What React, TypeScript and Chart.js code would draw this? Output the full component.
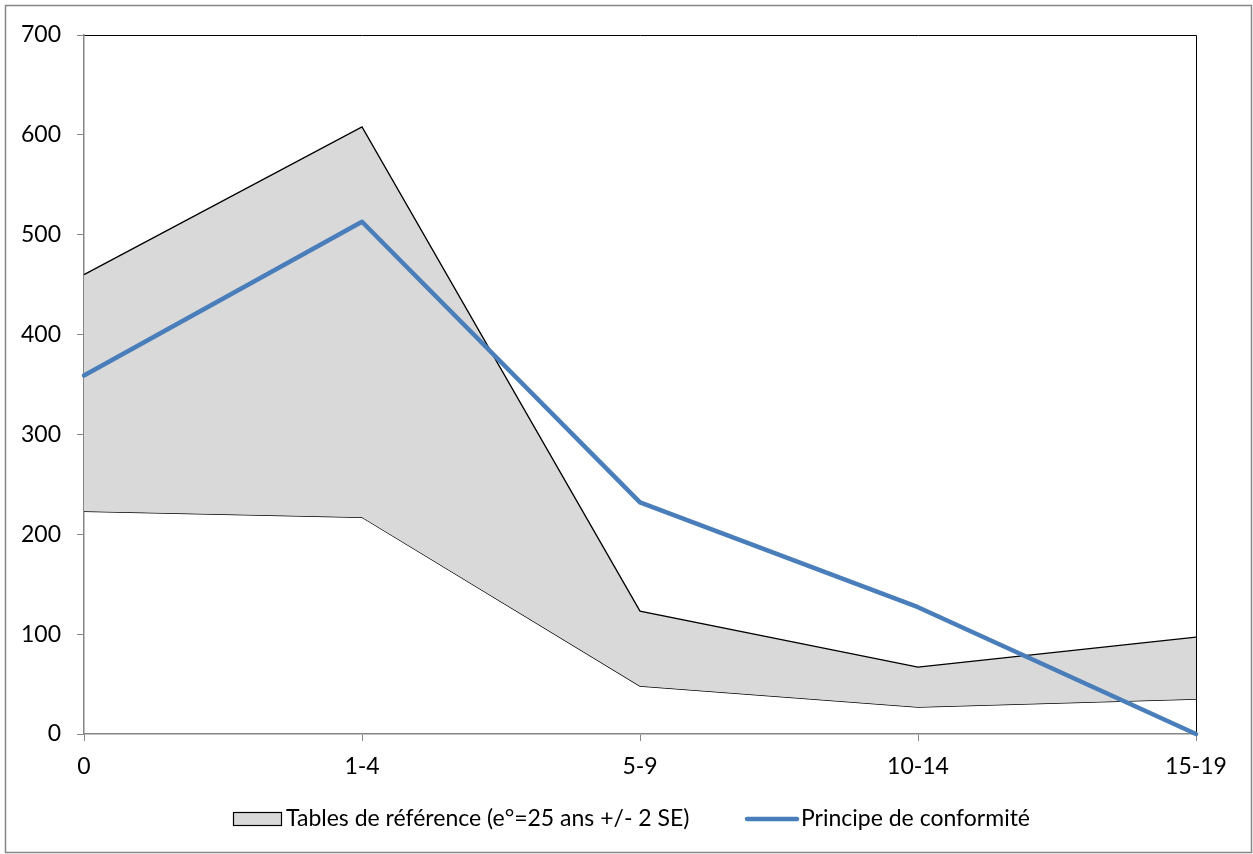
import React, { useEffect, useRef } from 'react';
import { Chart, registerables } from 'chart.js';

Chart.register(...registerables);

const categories = ['0', '1-4', '5-9', '10-14', '15-19'];
const lowerBound = [223, 217, 48, 27, 35];
const upperBound = [460, 608, 123, 67, 97];
const conformite = [359, 513, 232, 127, 0];
const yMin = 0;
const yMax = 700;
const yStep = 100;
const bandLabel = 'Tables de référence (e°=25 ans +/- 2 SE)';
const lineLabel = 'Principe de conformité';

const FONT = 'Lato';
const FONT_SIZE = 23;
const AXIS_GRAY = '#868686';
const BLUE = '#4A7EBB';
const BAND_FILL = '#D9D9D9';

const framePlugin = {
  id: 'frame',
  beforeDraw(chart: any) {
    const ctx = chart.ctx;
    ctx.save();
    ctx.fillStyle = '#ffffff';
    ctx.fillRect(0, 0, chart.width, chart.height);
    ctx.restore();
  },
  beforeDatasetsDraw(chart: any) {
    const { ctx, chartArea } = chart;
    ctx.save();
    ctx.strokeStyle = '#000000';
    ctx.lineWidth = 1;
    ctx.beginPath();
    ctx.moveTo(Math.round(chartArea.left) + 0.5, Math.round(chartArea.top) + 0.5);
    ctx.lineTo(Math.round(chartArea.right) + 0.5, Math.round(chartArea.top) + 0.5);
    ctx.lineTo(Math.round(chartArea.right) + 0.5, Math.round(chartArea.bottom) + 0.5);
    ctx.stroke();
    ctx.restore();
  },
  afterDraw(chart: any) {
    const ctx = chart.ctx;
    ctx.save();
    // outer border
    ctx.strokeStyle = AXIS_GRAY;
    ctx.lineWidth = 1.5;
    ctx.strokeRect(5.5, 5.5, chart.width - 7, chart.height - 7);

    // legend
    const cy = 819;
    ctx.font = `${FONT_SIZE}px ${FONT}`;
    ctx.textBaseline = 'middle';
    // band swatch
    ctx.fillStyle = BAND_FILL;
    ctx.fillRect(233.5, 812.5, 48, 13);
    ctx.strokeStyle = '#000000';
    ctx.lineWidth = 1.2;
    ctx.strokeRect(233.5, 812.5, 48, 13);
    ctx.fillStyle = '#000000';
    ctx.fillText(bandLabel, 286, cy);
    // line swatch
    ctx.strokeStyle = BLUE;
    ctx.lineWidth = 4.5;
    ctx.lineCap = 'round';
    ctx.beginPath();
    ctx.moveTo(747, cy);
    ctx.lineTo(797, cy);
    ctx.stroke();
    ctx.fillText(lineLabel, 801, cy);
    ctx.restore();
  },
};

export default function App() {
  const canvasRef = useRef<HTMLCanvasElement | null>(null);

  useEffect(() => {
    if (!canvasRef.current) return;
    const chart = new Chart(canvasRef.current, {
      type: 'line',
      data: {
        labels: categories,
        datasets: [
          {
            label: lineLabel,
            data: conformite,
            borderColor: BLUE,
            borderWidth: 4.5,
            borderJoinStyle: 'round',
            borderCapStyle: 'round',
            pointRadius: 0,
            fill: false,
            tension: 0,
            order: 0,
            clip: false,
          } as any,
          {
            label: 'lower',
            data: lowerBound,
            borderColor: '#000000',
            borderWidth: 1.3,
            pointRadius: 0,
            fill: false,
            tension: 0,
            order: 2,
          },
          {
            label: bandLabel,
            data: upperBound,
            borderColor: '#000000',
            borderWidth: 1.3,
            backgroundColor: BAND_FILL,
            pointRadius: 0,
            fill: '-1',
            tension: 0,
            order: 1,
          },
        ],
      },
      options: {
        animation: false,
        responsive: false,
        maintainAspectRatio: false,
        layout: { padding: { left: 0, right: 57, top: 35, bottom: 0 } },
        plugins: {
          legend: { display: false },
          tooltip: { enabled: false },
        },
        scales: {
          x: {
            offset: false,
            grid: {
              display: true,
              drawOnChartArea: false,
              drawTicks: true,
              tickLength: 7,
              color: AXIS_GRAY,
              tickColor: AXIS_GRAY,
            },
            border: { display: true, color: AXIS_GRAY, width: 1.5 },
            ticks: {
              color: '#000000',
              font: { family: FONT, size: FONT_SIZE },
              padding: 12,
              maxRotation: 0,
              autoSkip: false,
            },
            afterFit(scale: any) {
              scale.height = 120;
            },
          },
          y: {
            min: yMin,
            max: yMax,
            grid: {
              display: true,
              drawOnChartArea: false,
              drawTicks: true,
              tickLength: 7,
              color: AXIS_GRAY,
              tickColor: AXIS_GRAY,
            },
            border: { display: true, color: AXIS_GRAY, width: 1.5 },
            ticks: {
              stepSize: yStep,
              color: '#000000',
              font: { family: FONT, size: FONT_SIZE },
              padding: 16,
            },
            afterFit(scale: any) {
              scale.width = 84;
            },
          },
        },
      },
      plugins: [framePlugin],
    });
    return () => chart.destroy();
  }, []);

  return (
    <div style={{ position: 'absolute', left: 0, top: 0, width: 1253, height: 854 }}>
      <canvas ref={canvasRef} width={1253} height={854} style={{ display: 'block' }} />
    </div>
  );
}
